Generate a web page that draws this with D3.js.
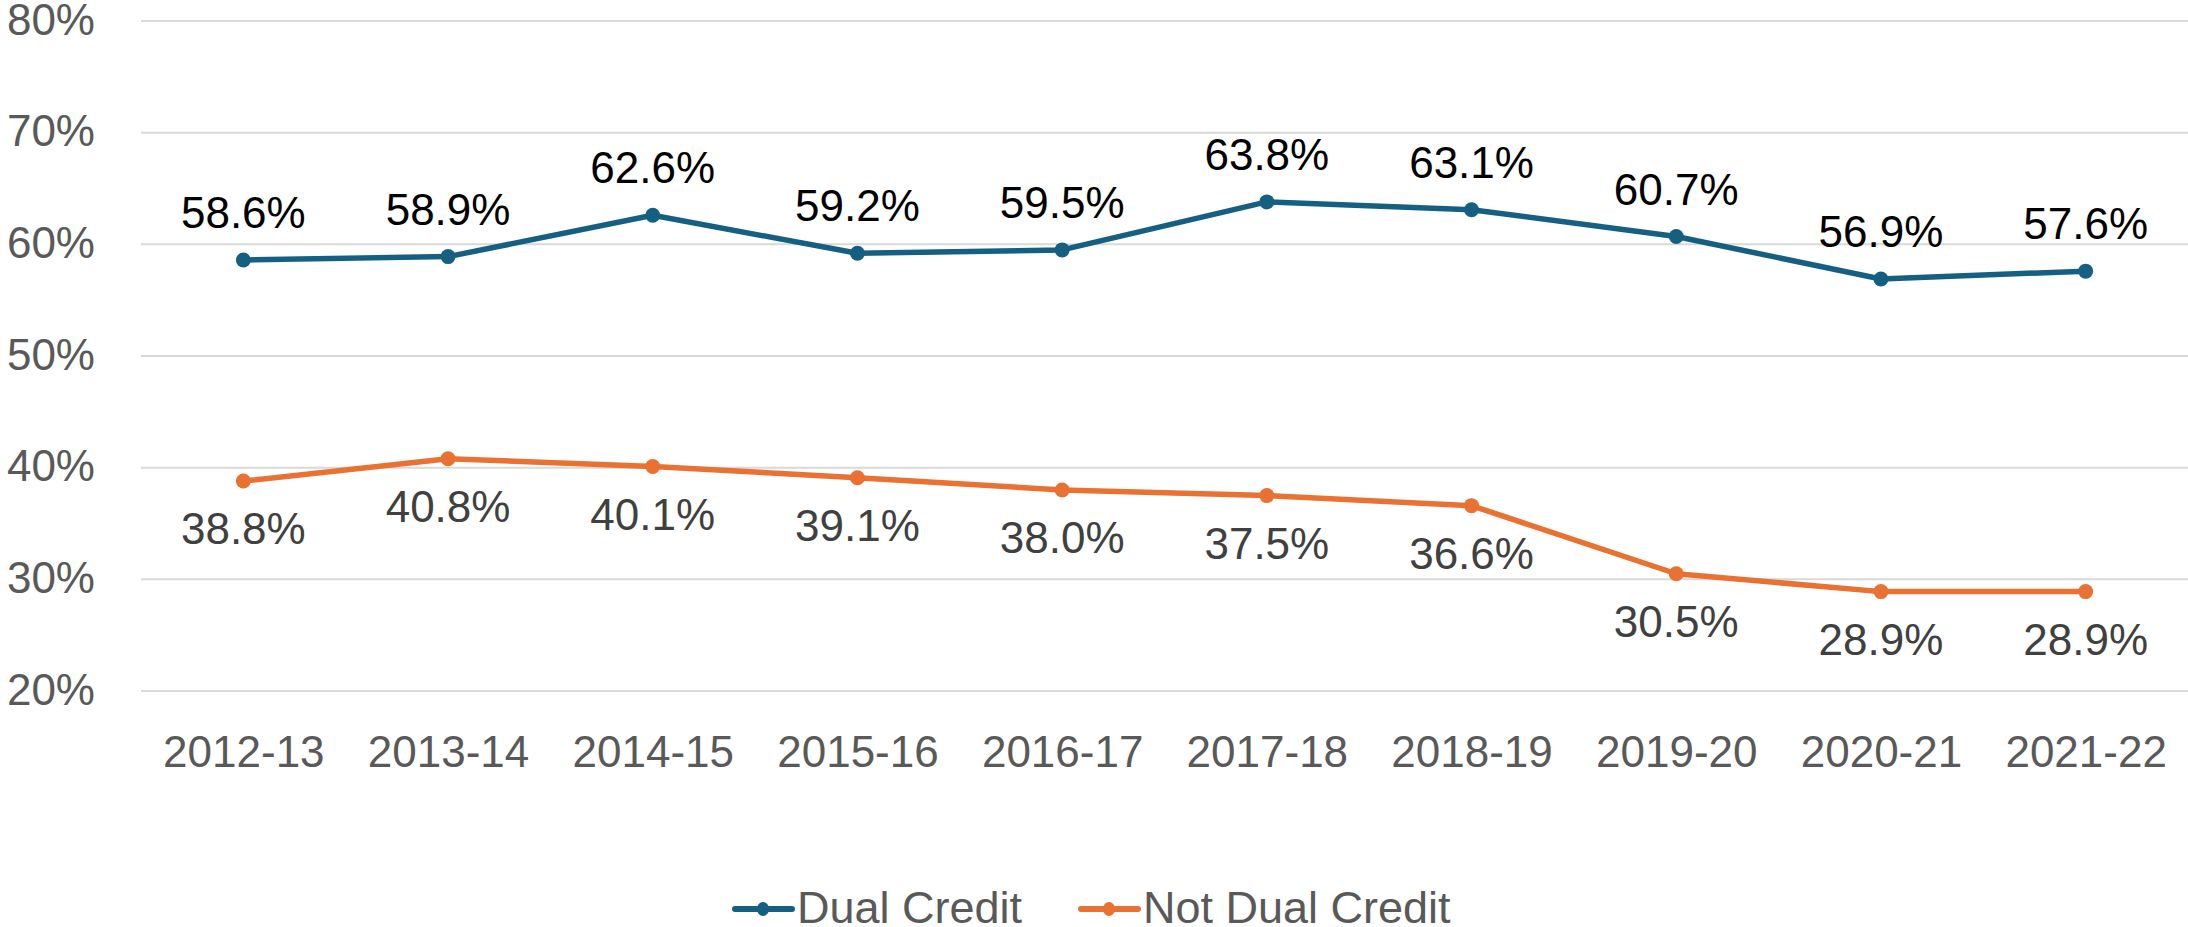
<!DOCTYPE html>
<html lang="en">
    <head>
        <meta charset="UTF-8">
        <title>Dual Credit vs Not Dual Credit</title>
        <style>
            html, body {
                margin: 0;
                padding: 0;
                background: #fff;
            }
            svg {
                display: block;
                font-family: "Liberation Sans", Arial, sans-serif;
            }
            .grid line {
                stroke: #d9d9d9;
                stroke-width: 2;
            }
            .axis text {
                fill: #595959;
                font-size: 44px;
            }
            .series-line {
                fill: none;
                stroke-width: 5.5;
                stroke-linejoin: round;
            }
            .legend text {
                fill: #595959;
                font-size: 45px;
            }
        </style>
    </head>
    <body>
        <div id="chart"></div>
        <script src="https://d3js.org/d3.v7.min.js"></script>
        <script>
            // chart data
            const years = ["2012-13", "2013-14", "2014-15", "2015-16", "2016-17",
                           "2017-18", "2018-19", "2019-20", "2020-21", "2021-22"];
            const dualCredit = [58.6, 58.9, 62.6, 59.2, 59.5, 63.8, 63.1, 60.7, 56.9, 57.6];
            const notDualCredit = [38.8, 40.8, 40.1, 39.1, 38.0, 37.5, 36.6, 30.5, 28.9, 28.9];
            const yTicks = [20, 30, 40, 50, 60, 70, 80];
            const seriesNames = ["Dual Credit", "Not Dual Credit"];

            const width = 2188;
            const height = 927;

            const series = [
                { name: seriesNames[0], values: dualCredit, color: "#156082", labelColor: "#000000", above: true },
                { name: seriesNames[1], values: notDualCredit, color: "#E97132", labelColor: "#404040", above: false }
            ];

            const svg = d3.select("#chart").append("svg")
                .attr("width", width)
                .attr("height", height);

            const x = d3.scalePoint()
                .domain(years)
                .range([141, 2188])
                .padding(0.5);

            const y = d3.scaleLinear()
                .domain([20, 80])
                .range([691, 21]);

            // gridlines
            svg.append("g")
                .attr("class", "grid")
                .selectAll("line")
                .data(yTicks)
                .enter().append("line")
                .attr("x1", 141)
                .attr("x2", width)
                .attr("y1", d => y(d))
                .attr("y2", d => y(d));

            // y axis
            const yAxis = svg.append("g")
                .attr("class", "axis")
                .attr("transform", "translate(95,0)")
                .call(d3.axisLeft(y).tickValues(yTicks).tickSize(0).tickPadding(0).tickFormat(d => d + "%"));
            yAxis.select(".domain").remove();
            yAxis.selectAll("text")
                .attr("dy", "0.3em")
                .style("font-family", "inherit");

            // x axis
            const xAxis = svg.append("g")
                .attr("class", "axis")
                .attr("transform", "translate(0,735)")
                .call(d3.axisBottom(x).tickSize(0).tickPadding(0));
            xAxis.select(".domain").remove();
            xAxis.selectAll("text")
                .attr("dy", "0.73em")
                .style("font-family", "inherit");

            const line = d3.line()
                .x((d, i) => x(years[i]))
                .y(d => y(d));

            series.forEach(s => {
                svg.append("path")
                    .datum(s.values)
                    .attr("class", "series-line")
                    .attr("stroke", s.color)
                    .attr("d", line);

                svg.append("g")
                    .selectAll("circle")
                    .data(s.values)
                    .enter().append("circle")
                    .attr("cx", (d, i) => x(years[i]))
                    .attr("cy", d => y(d))
                    .attr("r", 7.5)
                    .attr("fill", s.color);

                svg.append("g")
                    .selectAll("text")
                    .data(s.values)
                    .enter().append("text")
                    .attr("x", (d, i) => x(years[i]))
                    .attr("y", d => s.above ? y(d) - 32 : y(d) + 63)
                    .attr("text-anchor", "middle")
                    .attr("fill", s.labelColor)
                    .style("font-size", "44px")
                    .text(d => d.toFixed(1) + "%");
            });

            // legend
            const legendX = [735, 1081];
            const legend = svg.append("g").attr("class", "legend");
            series.forEach((s, i) => {
                const g = legend.append("g")
                    .attr("transform", `translate(${legendX[i]},909)`);
                g.append("line")
                    .attr("x1", 0).attr("x2", 57)
                    .attr("y1", 0).attr("y2", 0)
                    .attr("stroke", s.color)
                    .attr("stroke-width", 6)
                    .attr("stroke-linecap", "round");
                g.append("ellipse")
                    .attr("cx", 28).attr("cy", 0)
                    .attr("rx", 6).attr("ry", 7)
                    .attr("fill", s.color);
                g.append("text")
                    .attr("x", 62)
                    .attr("y", 14)
                    .text(s.name);
            });
        </script>
    </body>
</html>
